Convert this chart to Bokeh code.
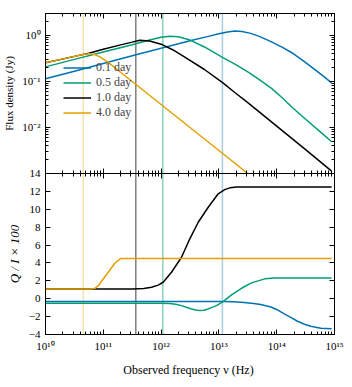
import numpy as np
from bokeh.plotting import figure
from bokeh.models import (Range1d, FixedTicker, LogAxis, LinearAxis, Span,
                          Legend, LegendItem, CustomJSTickFormatter)
from bokeh.layouts import column
from bokeh.embed import file_html
from bokeh.resources import INLINE

# ---------------- data ----------------
epochs = ["0.1 day", "0.5 day", "1.0 day", "4.0 day"]
colors = ["#0072b2", "#009e73", "#000000", "#e69f00"]
vline_nu = [1.15e13, 1.07e12, 3.65e11, 4.5e10]
vline_alpha = [0.35, 0.45, 0.5, 0.3]

# top panel: log10(nu / Hz), log10(F / Jy)
f01_lognu = [10.0, 10.5, 11.0, 11.5, 12.0, 12.5, 12.8, 13.0, 13.15, 13.275, 13.4, 13.55,
             13.7, 13.91, 14.1, 14.256, 14.45, 14.65, 14.8, 14.95]
f01_logF = [-0.943, -0.777, -0.61, -0.443, -0.277, -0.115, -0.025, 0.035, 0.075, 0.095, 0.085,
            0.045, -0.02, -0.14, -0.26, -0.37, -0.54, -0.73, -0.88, -1.03]

f05_lognu = [10.0, 10.5, 11.0, 11.5, 11.834, 12.0, 12.15, 12.3, 12.5, 12.75, 13.07, 13.3,
             13.5, 13.7, 13.91, 14.1, 14.256, 14.5, 14.75, 14.95]
f05_logF = [-0.683, -0.52, -0.36, -0.20, -0.09, -0.04, -0.015, -0.03, -0.10, -0.25, -0.48,
            -0.64, -0.79, -0.96, -1.15, -1.36, -1.55, -1.82, -2.09, -2.31]

f10_lognu = [10.0, 10.25, 10.5, 10.75, 11.0, 11.3, 11.5, 11.63, 11.8, 12.0, 12.2, 12.41,
             12.75, 13.07, 13.275, 13.5, 14.0, 14.5, 14.95]
f10_logF = [-0.595, -0.525, -0.455, -0.385, -0.30, -0.205, -0.145, -0.105, -0.12, -0.19,
            -0.31, -0.47, -0.74, -1.03, -1.24, -1.46, -1.97, -2.48, -2.95]

f40_lognu = [10.0, 10.25, 10.5, 10.65, 10.75, 10.85, 10.95, 11.08, 11.25, 11.5, 12.0, 12.5,
             13.0, 13.5]
f40_logF = [-0.595, -0.525, -0.455, -0.415, -0.40, -0.415, -0.47, -0.58, -0.75, -1.0, -1.5,
            -2.0, -2.5, -3.0]

# bottom panel: log10(nu / Hz), Q/I x 100
p01_lognu = [10.0, 13.06, 13.25, 13.437, 13.6, 13.725, 13.898, 14.0, 14.13, 14.25, 14.36,
             14.48, 14.59, 14.763, 14.95]
p01_val = [-0.32, -0.32, -0.35, -0.43, -0.53, -0.65, -0.92, -1.2, -1.69, -2.12, -2.52,
           -2.85, -3.08, -3.29, -3.37]

p05_lognu = [10.0, 12.0, 12.15, 12.25, 12.353, 12.45, 12.526, 12.6, 12.67, 12.74, 12.815,
             12.958, 13.073, 13.218, 13.391, 13.564, 13.794, 13.96, 14.2, 14.95]
p05_val = [-0.51, -0.51, -0.53, -0.62, -0.77, -0.98, -1.14, -1.27, -1.33, -1.29, -1.14,
           -0.77, -0.32, 0.43, 1.17, 1.77, 2.22, 2.31, 2.33, 2.33]

p10_lognu = [10.0, 11.5, 11.7, 11.834, 11.95, 12.036, 12.18, 12.353, 12.497, 12.642, 12.815,
             12.988, 13.1, 13.2, 13.3, 14.95]
p10_val = [1.10, 1.10, 1.15, 1.28, 1.52, 1.84, 2.96, 4.64, 6.70, 8.55, 10.23, 11.73, 12.2,
           12.42, 12.48, 12.48]

p40_lognu = [10.0, 10.8, 10.86, 10.92, 10.969, 11.085, 11.2, 11.298, 14.95]
p40_val = [1.10, 1.10, 1.18, 1.5, 1.95, 2.96, 3.97, 4.49, 4.49]

x_major = [1e10, 1e11, 1e12, 1e13, 1e14, 1e15]
y_top_major = [1e-2, 1e-1, 1e0]
y_bot_major = [-4, -2, 0, 2, 4, 6, 8, 10, 12, 14]

flux_sets = [(f01_lognu, f01_logF), (f05_lognu, f05_logF), (f10_lognu, f10_logF), (f40_lognu, f40_logF)]
pol_sets = [(p01_lognu, p01_val), (p05_lognu, p05_val), (p10_lognu, p10_val), (p40_lognu, p40_val)]

# ---------------- styling ----------------
FONT = "Liberation Serif"
x_minor = [k * 10.0 ** e for e in range(10, 15) for k in range(2, 10)]
y_top_minor = [k * 10.0 ** e for e in range(-3, 1) for k in range(2, 10) if k * 10.0 ** e <= 3]

sup_code = """
const sup = {"0":"\u2070","1":"\u00b9","2":"\u00b2","3":"\u00b3","4":"\u2074","5":"\u2075",
             "6":"\u2076","7":"\u2077","8":"\u2078","9":"\u2079","-":"\u207b"};
const e = Math.round(Math.log10(tick));
return "10" + String(e).split("").map(c => (sup[c] || c)).join("");
"""
blank_code = 'return "";'

OVERLAP = 8   # bottom border of the top figure == top border of the bottom figure


def style_axis(ax, labels=True, size="11px"):
    ax.major_tick_in = 5
    ax.major_tick_out = 0
    ax.minor_tick_in = 3
    ax.minor_tick_out = 0
    ax.axis_line_color = "black"
    ax.major_tick_line_color = "black"
    ax.minor_tick_line_color = "black"
    ax.major_label_text_font = FONT
    ax.major_label_text_color = "black"
    if labels:
        ax.major_label_text_font_size = size
        ax.major_label_standoff = 5
    else:
        ax.formatter = CustomJSTickFormatter(code=blank_code)
        ax.major_label_text_font_size = "1px"
        ax.major_label_standoff = 0
    ax.axis_label_text_font = FONT
    ax.axis_label_text_font_style = "normal"
    ax.axis_label_text_color = "black"


def make_fig(y_type, y_range, fh, top_b, bot_b):
    p = figure(frame_width=289, frame_height=fh, x_axis_type="log", y_axis_type=y_type,
               x_range=Range1d(1e10, 1e15), y_range=y_range,
               output_backend="svg", toolbar_location=None,
               min_border_left=44, min_border_right=11,
               min_border_top=top_b, min_border_bottom=bot_b)
    p.xgrid.visible = False
    p.ygrid.visible = False
    p.outline_line_color = "black"
    p.background_fill_color = "white"
    p.border_fill_color = "white"
    return p


# ---------------- top panel ----------------
top = make_fig("log", Range1d(1e-3, 3), 160, 13, OVERLAP)
xt = FixedTicker(ticks=x_major, minor_ticks=x_minor)
ytt = FixedTicker(ticks=y_top_major, minor_ticks=y_top_minor)
top.xaxis[0].ticker = xt
top.yaxis[0].ticker = ytt
style_axis(top.xaxis[0], labels=False)
style_axis(top.yaxis[0])
top.yaxis[0].formatter = CustomJSTickFormatter(code=sup_code)
top.yaxis[0].axis_label = "Flux density (Jy)"
top.yaxis[0].axis_label_text_font_size = "11px"
top.yaxis[0].axis_label_standoff = 4
a = LogAxis(ticker=xt)
style_axis(a, labels=False)
top.add_layout(a, "above")
a = LogAxis(ticker=ytt)
style_axis(a, labels=False)
top.add_layout(a, "right")

for nu, c, al in zip(vline_nu, colors, vline_alpha):
    top.add_layout(Span(location=nu, dimension="height", line_color=c, line_alpha=al,
                        line_width=1.5, level="underlay"))

items = []
for (ln, lf), c, lab in zip(flux_sets, colors, epochs):
    r = top.line(10 ** np.array(ln), 10 ** np.array(lf), line_color=c, line_width=1.5)
    items.append(LegendItem(label=lab, renderers=[r]))

legend = Legend(items=items, location=(18, 53), glyph_width=28, glyph_height=11,
                label_height=11, spacing=-5, padding=0, margin=0, label_standoff=5,
                label_text_font=FONT, label_text_font_size="12px",
                border_line_alpha=0, background_fill_alpha=0)
top.add_layout(legend)

# ---------------- bottom panel ----------------
bot = make_fig("linear", Range1d(-4, 14), 161, OVERLAP, 45)
bot.border_fill_alpha = 0
bot.styles = {"margin-top": "-%dpx" % (2 * OVERLAP)}
ybt = FixedTicker(ticks=y_bot_major, minor_ticks=[])
bot.xaxis[0].ticker = xt
bot.yaxis[0].ticker = ybt
style_axis(bot.xaxis[0])
style_axis(bot.yaxis[0])
bot.xaxis[0].formatter = CustomJSTickFormatter(code=sup_code)
bot.xaxis[0].axis_label = "Observed frequency  \u03bd (Hz)"
bot.xaxis[0].axis_label_text_font_size = "12px"
bot.xaxis[0].axis_label_standoff = 8
bot.yaxis[0].axis_label = "Q / I \u00d7 100"
bot.yaxis[0].axis_label_text_font_size = "13px"
bot.yaxis[0].axis_label_text_font_style = "italic"
bot.yaxis[0].axis_label_standoff = 4
a = LogAxis(ticker=xt)
style_axis(a, labels=False)
bot.add_layout(a, "above")
a = LinearAxis(ticker=ybt)
style_axis(a, labels=False)
bot.add_layout(a, "right")

for nu, c, al in zip(vline_nu, colors, vline_alpha):
    bot.add_layout(Span(location=nu, dimension="height", line_color=c, line_alpha=al,
                        line_width=1.5, level="underlay"))

for (ln, v), c in zip(pol_sets, colors):
    bot.line(10 ** np.array(ln), v, line_color=c, line_width=1.5)

layout = column(top, bot, spacing=0)
open("out.html", "w").write(file_html(layout, INLINE))
